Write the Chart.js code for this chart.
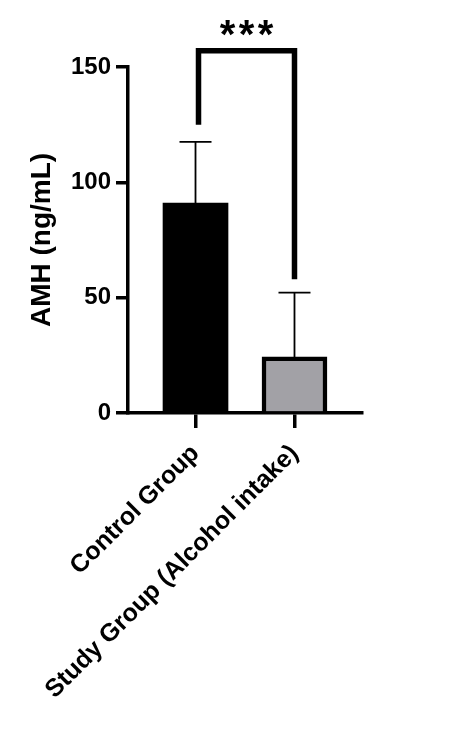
<!DOCTYPE html>
<html>
<head>
<meta charset="utf-8">
<script src="https://cdn.jsdelivr.net/npm/chart.js@4.4.1/dist/chart.umd.min.js"></script>
<style>
  body { margin: 0; background: #fff; }
  #wrap { width: 450px; height: 730px; }
</style>
</head>
<body>
<div id="wrap"><canvas id="amhChart" width="450" height="730"></canvas></div>
<script>
// data
const groups = ['Control Group', 'Study Group (Alcohol intake)'];
const groupPos = [1, 2];
const amhMean = [91, 24.3];
const amhSD = [26.5, 27.9];
const yTicks = [0, 50, 100, 150];
const bracketFeet = [125, 58];   // where the significance bracket legs end
const bracketTop = 157;
const sigLabel = '***';

const FONT = '"Liberation Sans", Arial, sans-serif';

//========================
// error bars
//========================
const errorBars = {
  id: 'errorBars',
  afterDatasetsDraw(chart) {
    const { ctx, scales: { x, y } } = chart;
    ctx.save();
    ctx.strokeStyle = '#000';
    ctx.lineWidth = 1.8;
    amhMean.forEach((m, i) => {
      const px = x.getPixelForValue(groupPos[i]);
      const yBase = y.getPixelForValue(m);
      const yTop = y.getPixelForValue(m + amhSD[i]);
      ctx.beginPath();
      ctx.moveTo(px, yBase);
      ctx.lineTo(px, yTop);
      ctx.moveTo(px - 16, yTop);
      ctx.lineTo(px + 16, yTop);
      ctx.stroke();
    });
    ctx.restore();
  }
};

//========================
// significance bracket
//========================
const sigBracket = {
  id: 'sigBracket',
  afterDraw(chart) {
    const { ctx, scales: { x, y } } = chart;
    const x1 = x.getPixelForValue(groupPos[0]) + 3;
    const x2 = x.getPixelForValue(groupPos[1]);
    const top = y.getPixelForValue(bracketTop);
    ctx.save();
    ctx.strokeStyle = '#000';
    ctx.lineWidth = 5.5;
    ctx.lineJoin = 'miter';
    ctx.beginPath();
    ctx.moveTo(x1, y.getPixelForValue(bracketFeet[0]));
    ctx.lineTo(x1, top);
    ctx.lineTo(x2, top);
    ctx.lineTo(x2, y.getPixelForValue(bracketFeet[1]));
    ctx.stroke();

    ctx.fillStyle = '#000';
    ctx.font = 'bold 40px ' + FONT;
    ctx.textAlign = 'center';
    ctx.textBaseline = 'alphabetic';
    const mid = (x1 + x2) / 2;
    const chars = sigLabel.split('');
    chars.forEach((c, i) => {
      ctx.fillText(c, mid + (i - (chars.length - 1) / 2) * 19, top - 3);
    });
    ctx.restore();
  }
};

const ctx = document.getElementById('amhChart').getContext('2d');
new Chart(ctx, {
  type: 'bar',
  data: {
    datasets: [{
      data: groupPos.map((p, i) => ({ x: p, y: amhMean[i] })),
      backgroundColor: ['#000000', '#a2a1a6'],
      borderColor: '#000',
      borderWidth: [0, 4.5],
      barThickness: 65
    }]
  },
  options: {
    responsive: false,
    animation: false,
    layout: { padding: { top: 67, right: 88, left: 0, bottom: 0 } },
    plugins: {
      legend: { display: false },
      tooltip: { enabled: false }
    },
    scales: {
      x: {
        type: 'linear',
        offset: false,
        min: 0.318,
        max: 2.682,
        afterBuildTicks: axis => { axis.ticks = groupPos.map(v => ({ value: v })); },
        afterFit: axis => { axis.height = 730 - 413; },
        ticks: {
          autoSkip: false,
          minRotation: 45,
          maxRotation: 45,
          padding: 11,
          color: '#000',
          font: { family: FONT, size: 25, weight: 'bold' },
          callback: (v, i) => groups[i]
        },
        grid: { offset: false, drawOnChartArea: false, tickLength: 15, lineWidth: 3.5, color: '#000' },
        border: { width: 3.5, color: '#000' }
      },
      y: {
        min: 0,
        max: 150,
        afterBuildTicks: axis => { axis.ticks = yTicks.map(v => ({ value: v })); },
        afterFit: axis => { axis.width = 128; },
        ticks: {
          padding: 5,
          color: '#000',
          font: { family: FONT, size: 24, weight: 'bold' }
        },
        grid: { drawOnChartArea: false, tickLength: 12, lineWidth: 3.5, color: '#000' },
        border: { width: 3.5, color: '#000' },
        title: {
          display: true,
          text: 'AMH (ng/mL)',
          color: '#000',
          font: { family: FONT, size: 28, weight: 'bold' },
          padding: { top: 25, bottom: 0 }
        }
      }
    }
  },
  plugins: [errorBars, sigBracket]
});
</script>
</body>
</html>
